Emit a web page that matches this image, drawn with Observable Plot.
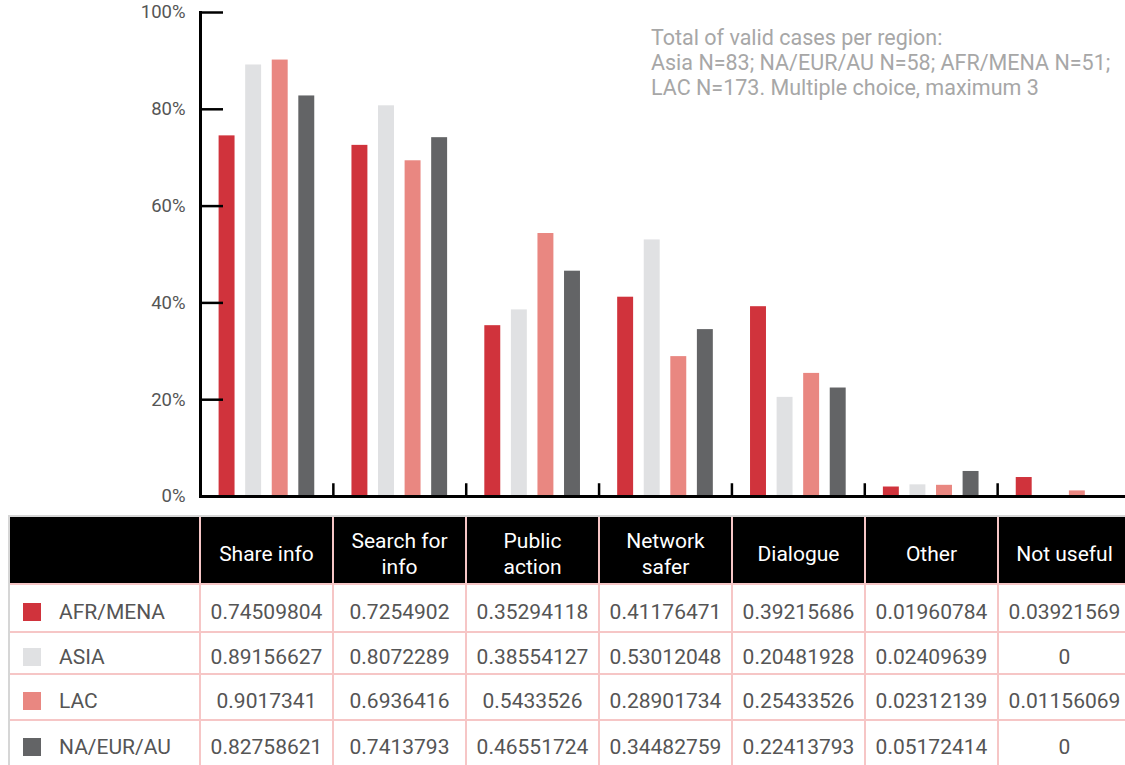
<!DOCTYPE html>
<html>
<head>
<meta charset="utf-8">
<script src="https://cdn.jsdelivr.net/npm/d3@7"></script>
<script src="https://cdn.jsdelivr.net/npm/@observablehq/plot@0.6"></script>
<style>
  html, body { margin: 0; padding: 0; background: #fff; overflow: hidden; width: 1125px; height: 765px; }
  body { position: relative; font-family: Roboto, "Noto Sans", sans-serif; }
  #chart { position: absolute; left: 0; top: 0; width: 1130px; }
  #note { position: absolute; left: 651px; top: 25px; font-size: 21.5px; line-height: 25px; color: #a7a7a7; white-space: pre; }
  #tablewrap { position: absolute; left: 8px; top: 515px; width: 1122px; border-top: 2px solid #d6d6d6; border-left: 2px solid #d6d6d6; }
  table { width: 1122px; border-collapse: separate; border-spacing: 0; table-layout: fixed; font-size: 21px; color: #555; }
  th, td { box-sizing: border-box; border-right: 2px solid #f6c6c6; border-bottom: 2px solid #f6c6c6; padding: 8px 0 0 0; text-align: center; vertical-align: middle; }
  th { background: #000; color: #fff; font-weight: 400; height: 68px; line-height: 26px; white-space: pre-line; }
  td.lab { text-align: left; white-space: nowrap; }
  .sw { display: inline-block; width: 18px; height: 18px; margin-left: 13px; margin-right: 18px; vertical-align: -2px; }
</style>
</head>
<body>
<div id="chart"></div>
<div id="note"></div>
<div id="tablewrap"></div>
<script>
const categories = ["Share info", "Search for info", "Public action", "Network safer", "Dialogue", "Other", "Not useful"];
const headerLabels = ["Share info", "Search for\ninfo", "Public\naction", "Network\nsafer", "Dialogue", "Other", "Not useful"];
const regions = ["AFR/MENA", "ASIA", "LAC", "NA/EUR/AU"];
const afrMena = [0.74509804, 0.7254902, 0.35294118, 0.41176471, 0.39215686, 0.01960784, 0.03921569];
const asia    = [0.89156627, 0.8072289, 0.38554127, 0.53012048, 0.20481928, 0.02409639, 0];
const lac     = [0.9017341, 0.6936416, 0.5433526, 0.28901734, 0.25433526, 0.02312139, 0.01156069];
const naEurAu = [0.82758621, 0.7413793, 0.46551724, 0.34482759, 0.22413793, 0.05172414, 0];
const colors = ["#d0333c", "#e0e1e3", "#e98781", "#636466"];
const yTicks = [0, 0.2, 0.4, 0.6, 0.8, 1];
const noteText = "Total of valid cases per region:\nAsia N=83; NA/EUR/AU N=58; AFR/MENA N=51;\nLAC N=173. Multiple choice, maximum 3";

const series = [afrMena, asia, lac, naEurAu];
const data = [];
regions.forEach((r, i) => categories.forEach((c, j) => data.push({region: r, category: c, value: series[i][j]})));

const chart = Plot.plot({
  width: 1130,
  height: 510,
  marginTop: 12,
  marginBottom: 14,
  marginLeft: 200,
  marginRight: 0,
  style: {fontFamily: "Roboto, sans-serif", background: "transparent", maxWidth: "none"},
  fx: {domain: categories, padding: 0, axis: null, round: false},
  x: {domain: regions, paddingInner: 0.4, paddingOuter: 0.7, axis: null, round: false},
  y: {domain: [0, 1], axis: null},
  color: {domain: regions, range: colors},
  marks: [
    Plot.barY(data, {fx: "category", x: "region", y: "value", fill: "region"}),
    Plot.ruleY([0], {stroke: "#000", strokeWidth: 3}),
    Plot.frame({anchor: "left", insetTop: 472, stroke: "#000", strokeWidth: 2.5}),
    Plot.frame({anchor: "left", facetAnchor: "left", stroke: "#000", strokeWidth: 3}),
    Plot.axisY({ticks: yTicks, tickSize: -23, text: null, stroke: "#000", strokeWidth: 2.5, label: null}),
    Plot.axisY({ticks: yTicks, tickSize: 0, tickPadding: 15, tickFormat: d => `${Math.round(d * 100)}%`, fontSize: 18.5, fill: "#555", label: null})
  ]
});
document.getElementById("chart").appendChild(chart);
document.getElementById("note").textContent = noteText;

// data table
const table = document.createElement("table");
const colWidths = [191].concat(categories.map(() => 133));
const head = document.createElement("tr");
["", ...headerLabels].forEach((h, i) => {
  const th = document.createElement("th");
  th.textContent = h;
  th.style.width = colWidths[i] + "px";
  head.appendChild(th);
});
table.appendChild(head);
const rowHeights = [48, 42, 46, 46];
regions.forEach((r, i) => {
  const tr = document.createElement("tr");
  const td0 = document.createElement("td");
  td0.className = "lab";
  td0.style.height = rowHeights[i] + "px";
  const sw = document.createElement("span");
  sw.className = "sw";
  sw.style.background = colors[i];
  td0.appendChild(sw);
  td0.appendChild(document.createTextNode(r));
  tr.appendChild(td0);
  series[i].forEach(v => {
    const td = document.createElement("td");
    td.textContent = String(v);
    tr.appendChild(td);
  });
  table.appendChild(tr);
});
document.getElementById("tablewrap").appendChild(table);
</script>
</body>
</html>
